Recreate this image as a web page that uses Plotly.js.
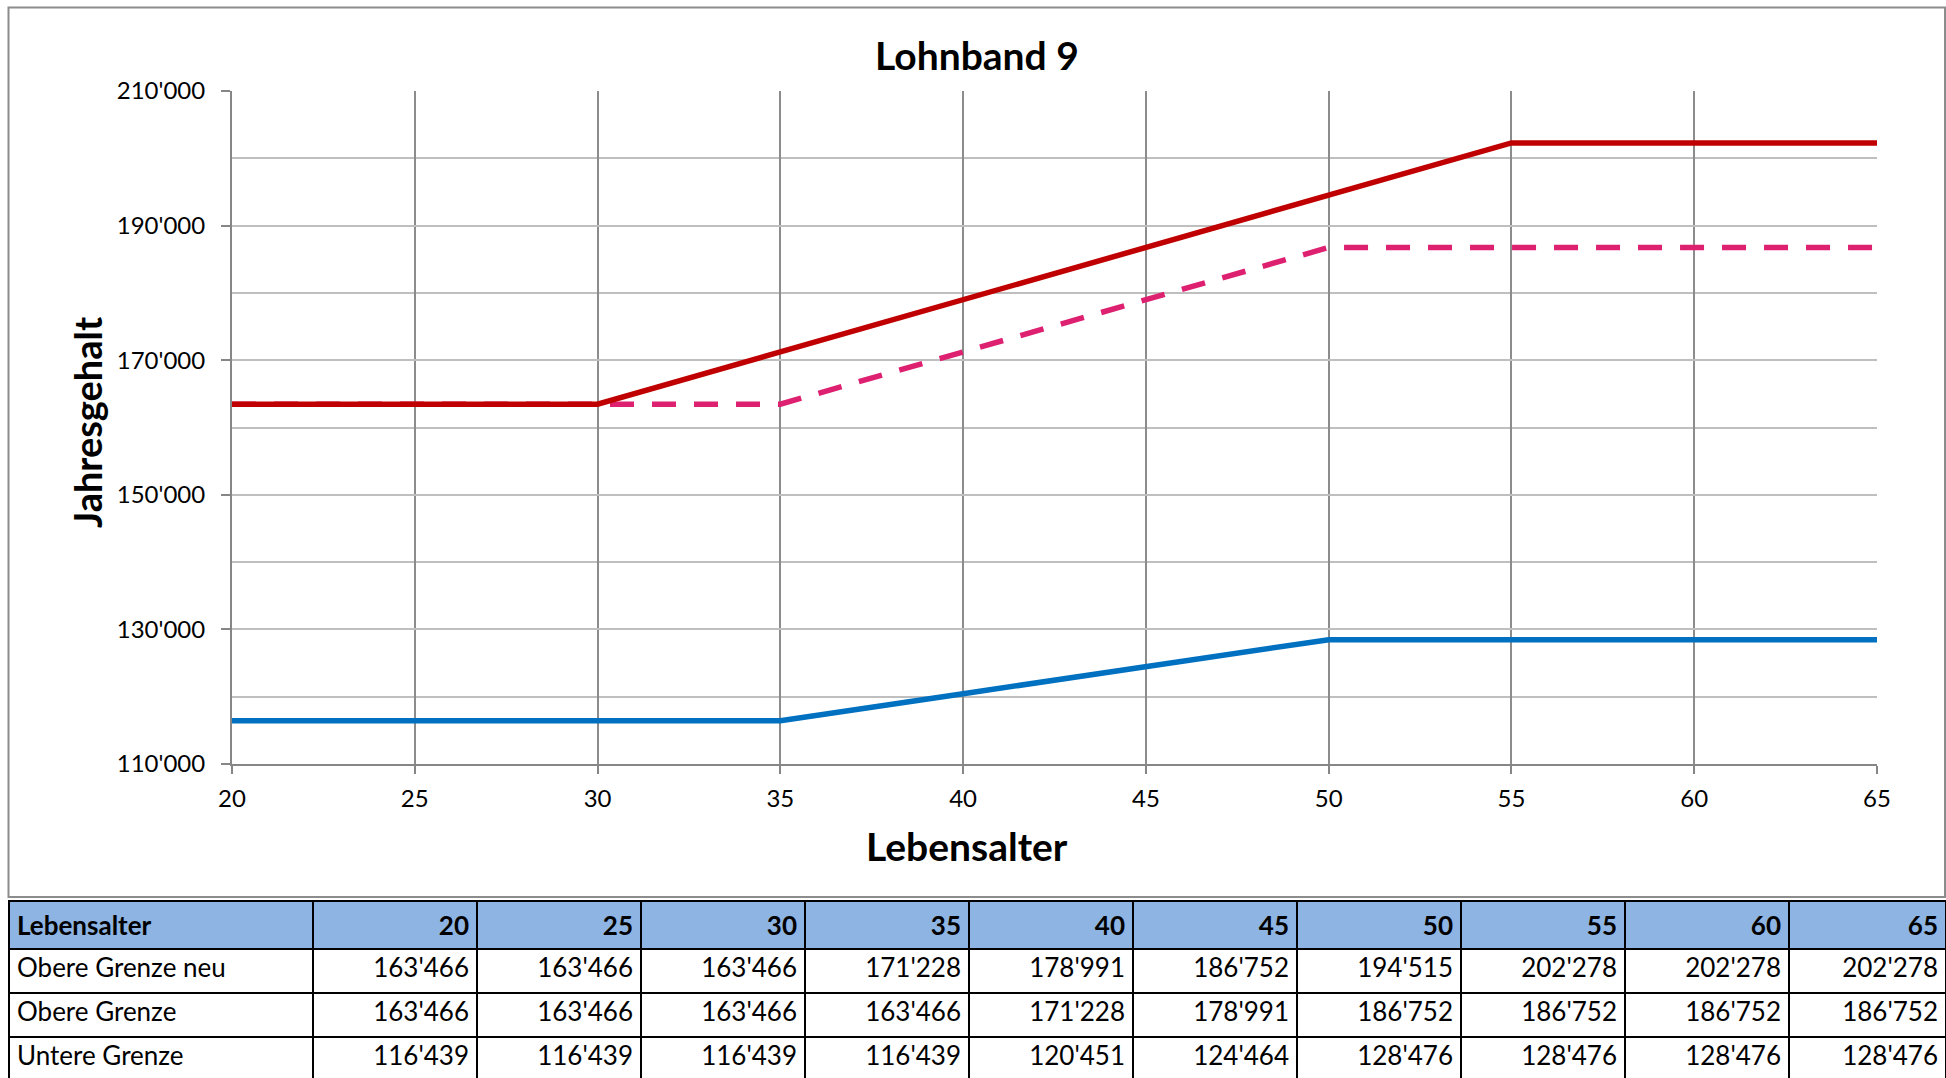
<!DOCTYPE html>
<html>
<head>
<meta charset="utf-8">
<script src="https://cdn.plot.ly/plotly-3.0.1.min.js"></script>
<style>
html,body{margin:0;padding:0;background:#fff;}
#chart{width:1946px;height:1078px;}
</style>
</head>
<body>
<div id="chart"></div>
<script>
// ---- data ----
const ages = [20, 25, 30, 35, 40, 45, 50, 55, 60, 65];
const obereGrenzeNeu = [163466, 163466, 163466, 171228, 178991, 186752, 194515, 202278, 202278, 202278];
const obereGrenze    = [163466, 163466, 163466, 163466, 171228, 178991, 186752, 186752, 186752, 186752];
const untereGrenze   = [116439, 116439, 116439, 116439, 120451, 124464, 128476, 128476, 128476, 128476];
const seriesNames = ['Obere Grenze neu', 'Obere Grenze', 'Untere Grenze'];
const chartTitle = 'Lohnband 9';
const xTitle = 'Lebensalter';
const yTitle = 'Jahresgehalt';

const W = 1946, H = 1078;
const FONT = 'Lato, Carlito, Calibri, "Open Sans", sans-serif';

// Swiss thousands separator (apostrophe)
function fmt(v) { return String(v).replace(/\B(?=(\d{3})+(?!\d))/g, "'"); }

const traces = [
  {
    type: 'scatter', mode: 'lines', name: seriesNames[2],
    x: ages, y: untereGrenze,
    line: {color: '#0070C0', width: 5.5}
  },
  {
    type: 'scatter', mode: 'lines', name: seriesNames[1],
    x: ages, y: obereGrenze,
    line: {color: '#DE2070', width: 5.5, dash: '24px,18px'}
  },
  {
    type: 'scatter', mode: 'lines', name: seriesNames[0],
    x: ages, y: obereGrenzeNeu,
    line: {color: '#C00000', width: 5.5}
  }
];

// table built from the same arrays
const headerVals = ['<b>' + xTitle + '</b>'].concat(ages.map(a => '<b>' + a + '</b>'));
const cellVals = [seriesNames].concat(ages.map((a, i) => [fmt(obereGrenzeNeu[i]), fmt(obereGrenze[i]), fmt(untereGrenze[i])]));
const colWidths = [304].concat(ages.map((a, i) => i === ages.length - 1 ? 157 : 164));
const aligns = ['left'].concat(ages.map(() => 'right'));

traces.push({
  type: 'table',
  domain: {x: [9 / W, 1], y: [0, 1 - 901 / H]},
  columnwidth: colWidths,
  header: {
    values: headerVals,
    align: aligns,
    height: 45,
    fill: {color: '#8DB4E2'},
    line: {color: '#000000', width: 2},
    font: {family: FONT, size: 26, color: '#000000'}
  },
  cells: {
    values: cellVals,
    align: aligns,
    height: 44,
    fill: {color: '#FFFFFF'},
    line: {color: '#000000', width: 2},
    font: {family: FONT, size: 26, color: '#000000'}
  }
});

const layout = {
  width: W, height: H,
  margin: {l: 0, r: 0, t: 0, b: 0},
  paper_bgcolor: '#FFFFFF',
  plot_bgcolor: '#FFFFFF',
  showlegend: false,
  separators: ".'",
  font: {family: FONT, color: '#000000'},
  xaxis: {
    domain: [232 / W, 1877 / W],
    range: [20, 65],
    tick0: 20, dtick: 5,
    showgrid: true, gridcolor: '#8C8C8C', gridwidth: 2,
    showline: true, linecolor: '#868686', linewidth: 2,
    ticks: 'outside', ticklen: 8, tickwidth: 2, tickcolor: '#868686',
    ticklabelstandoff: 4,
    tickfont: {family: FONT, size: 24, color: '#000000'},
    zeroline: false, fixedrange: true
  },
  yaxis: {
    domain: [1 - 764 / H, 1 - 91 / H],
    range: [110000, 210000],
    tick0: 110000, dtick: 20000,
    tickformat: ',d',
    showgrid: true, gridcolor: '#BFBFBF', gridwidth: 2,
    minor: {tick0: 110000, dtick: 10000, showgrid: true, gridcolor: '#BFBFBF', gridwidth: 2, ticks: ''},
    showline: true, linecolor: '#868686', linewidth: 2,
    ticks: 'outside', ticklen: 9, tickwidth: 2, tickcolor: '#868686',
    ticklabelstandoff: 11,
    tickfont: {family: FONT, size: 24, color: '#000000'},
    zeroline: false, fixedrange: true
  },
  shapes: [
    {type: 'rect', xref: 'paper', yref: 'paper',
     x0: 8.5 / W, x1: 1945 / W, y0: 1 - 897 / H, y1: 1 - 7.5 / H,
     line: {color: '#8C8C8C', width: 2}, fillcolor: 'rgba(0,0,0,0)', layer: 'below'}
  ],
  annotations: [
    {text: '<b>' + chartTitle + '</b>', xref: 'paper', yref: 'paper',
     x: 977 / W, y: 1 - 55 / H, xanchor: 'center', yanchor: 'middle',
     showarrow: false, font: {family: FONT, size: 39, color: '#000000'}},
    {text: '<b>' + xTitle + '</b>', xref: 'paper', yref: 'paper',
     x: 967 / W, y: 1 - 846 / H, xanchor: 'center', yanchor: 'middle',
     showarrow: false, font: {family: FONT, size: 39, color: '#000000'}},
    {text: '<b>' + yTitle + '</b>', xref: 'paper', yref: 'paper',
     x: 87 / W, y: 1 - 423 / H, xanchor: 'center', yanchor: 'middle', textangle: -90,
     showarrow: false, font: {family: FONT, size: 38, color: '#000000'}}
  ]
};

Plotly.newPlot('chart', traces, layout, {displayModeBar: false, staticPlot: true});
</script>
</body>
</html>
